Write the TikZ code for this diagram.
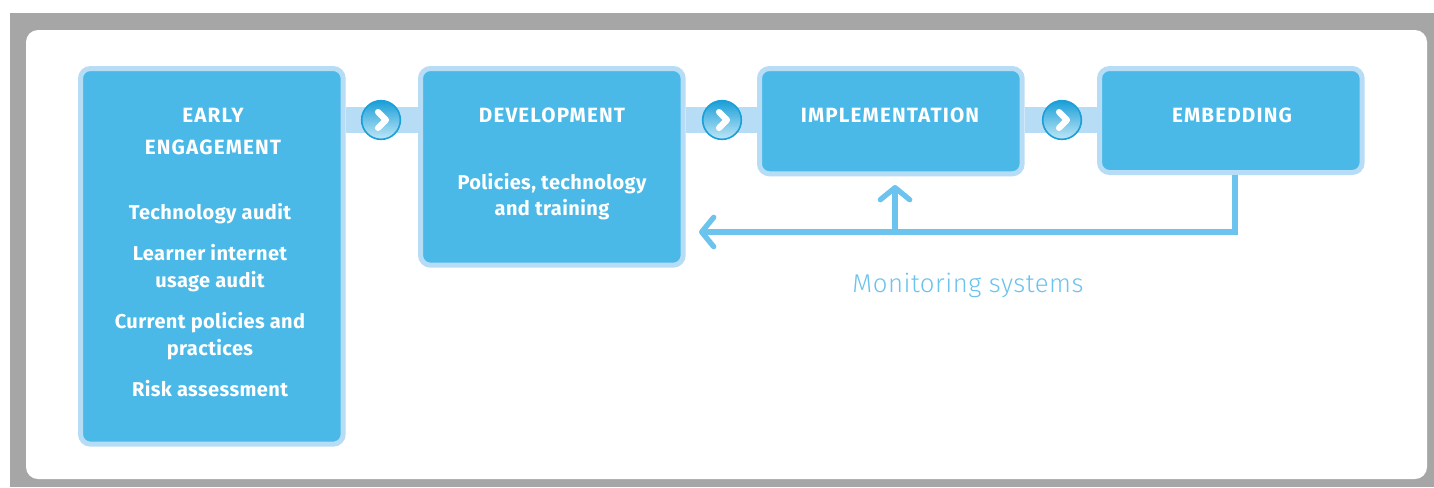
\documentclass[tikz,border=0pt]{standalone}
\usepackage{fontspec}
\setmainfont{Fira Sans}
\newfontfamily\lightfont[LetterSpace=2]{Fira Sans Light}
\usetikzlibrary{
    arrows.meta,
    positioning
}
\definecolor{boxfill}{HTML}{4AB9E8}
\definecolor{boxedge}{HTML}{B7DCF5}
\definecolor{loopline}{HTML}{6CC3EE}
\definecolor{knobrim}{HTML}{1A9FD8}
\definecolor{framegrey}{HTML}{A6A6A6}

\begin{document}
\begin{tikzpicture}[
    x=0.75pt, y=-0.75pt,
    stagebox/.style  = {rectangle, rounded corners=7.5pt, draw=boxedge, fill=boxfill,
                        line width=3.75pt, anchor=north west, minimum width=197pt},
    headtext/.style  = {text=white, font=\bfseries\fontsize{15.5}{15.5}\selectfont\addfontfeatures{LetterSpace=5.5}},
    bodytext/.style  = {text=white, text height=11pt, text depth=3.5pt, yshift=-0.75pt,
                        font=\bfseries\fontsize{15}{15}\selectfont\addfontfeatures{LetterSpace=2}},
    knob/.style      = {circle, draw=knobrim, line width=1.2pt, minimum size=29pt, inner sep=0pt,
                        top color=knobrim, bottom color=boxfill!35},
    band/.style      = {draw=boxedge, line width=19.5pt},
    chevron/.style   = {draw=white, line width=4.6pt, line cap=round, line join=round},
    loopline/.style  = {draw=loopline, line width=4pt,
                        -{Straight Barb[length=9pt, width=22pt, line width=4pt, round]}},
]
    %Frame
    \fill[framegrey] (10,13) rectangle (1434,487);
    \fill[white, rounded corners=9pt] (26,30) rectangle (1427,479);
    \useasboundingbox (0,0) rectangle (1434,487);

    %Boxes
    \node[stagebox, minimum height=281.75pt] (early)   at (78,66)   {};
    \node[stagebox, minimum height=147.5pt]  (develop) at (418,66)  {};
    \node[stagebox, minimum height=79pt]     (implem)  at (757,66)  {};
    \node[stagebox, minimum height=78pt]     (embed)   at (1097,66) {};

    %Knobs
    \coordinate (knobA) at (381,120);
    \coordinate (knobB) at (722,120);
    \coordinate (knobC) at (1062,120);
    \draw[band] (early.east |- knobA) -- (develop.west |- knobA);
    \draw[band] (develop.east |- knobB) -- (implem.west |- knobB);
    \draw[band] (implem.east |- knobC) -- (embed.west |- knobC);
    \foreach \k in {knobA, knobB, knobC} {
        \node[knob] (\k-disc) at (\k) {};
        \draw[chevron] ([shift={(-3,-8)}]\k-disc.center) -- ([shift={(5,0)}]\k-disc.center)
                       -- ([shift={(-3,8)}]\k-disc.center);
    }

    %Labels
    \node[headtext] (earlyA)   at (213,115) {EARLY};
    \node[headtext] (earlyB)   at (213,147) {ENGAGEMENT};
    \node[bodytext] (auditA)   at (210,213) {Technology audit};
    \node[bodytext] (auditB)   at (210,254) {Learner internet};
    \node[bodytext] (auditC)   at (210,281) {usage audit};
    \node[bodytext] (policyA)  at (210,322) {Current policies and};
    \node[bodytext] (policyB)  at (210,349) {practices};
    \node[bodytext] (risk)     at (210,390) {Risk assessment};
    \node[headtext] (devhead)  at (552,115) {DEVELOPMENT};
    \node[bodytext] (devA)     at (552,183) {Policies, technology};
    \node[bodytext] (devB)     at (552,209) {and training};
    \node[headtext] (imphead)  at (890,115) {IMPLEMENTATION};
    \node[headtext] (embhead)  at (1232,115) {EMBEDDING};
    \node[text=loopline, font=\lightfont\fontsize{19.3}{19.3}\selectfont] (monitor) at (968,285) {Monitoring systems};

    %Lines
    \coordinate (loopcorner) at (1235,232);
    \coordinate (loopend)    at (699,232);
    \coordinate (loopjoin)   at (895,232);
    \coordinate (looptop)    at (895,185);
    \draw[loopline, line join=miter] (embed.south -| loopcorner) -- (loopcorner) -- (loopend);
    \draw[loopline] (loopjoin) -- (looptop);
\end{tikzpicture}
\end{document}
